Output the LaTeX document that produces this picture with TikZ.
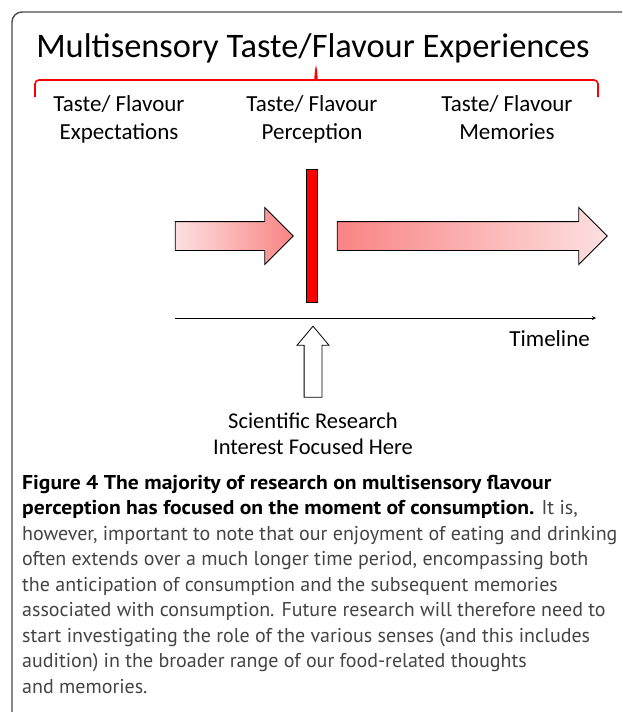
\documentclass[tikz,border=0pt]{standalone}
\usepackage{fontspec}
\setmainfont{Carlito}
\newfontfamily\capfont[BoldFeatures={FakeStretch=1.08}]{PT Sans}
\usepackage{tikz}
\usetikzlibrary{shapes, arrows, positioning}

\definecolor{framegray}{HTML}{4A4A4A}
\definecolor{palered}{HTML}{FDE0E0}
\definecolor{midred}{HTML}{F98484}
\definecolor{captxt}{HTML}{444444}

\begin{document}
\begin{tikzpicture}[x=1pt,y=-1pt]
        \useasboundingbox (0,0) rectangle (622,712);
        % frame, cut at right and bottom
        \draw[framegray, line width=1.4pt, rounded corners=10] (12,712) -- (12,12) -- (622,12);
        % heading and bracket
        \node[anchor=base, inner sep=0, font=\fontsize{34.4}{40}\selectfont] (title) at (313,57) {Multisensory Taste/Flavour Experiences};
        \draw[red, line width=1.6pt, rounded corners=4] (35,97) -- (35,80) -- (311,80)
          .. controls (315,80) .. (316,67) .. controls (317,80) .. (321,80) -- (598,80) -- (598,97);
        \begin{scope}[every node/.style={inner sep=0,align=center,anchor=north,font=\fontsize{23}{28}\selectfont}]
          \node (exp) at (119,95) {Taste/ Flavour\\Expectations};
          \node (perc) at (312,95) {Taste/ Flavour\\Perception};
          \node (mem) at (507,95) {Taste/ Flavour\\Memories};
        \end{scope}
        % block arrows and the moment of consumption
        \begin{scope}[every node/.style={single arrow,draw=black,thick,inner xsep=0,inner ysep=14,single arrow head extend=14}]
          \node[minimum height=118, left color=palered, right color=midred] (before) at (227,236) {};
          \node[minimum height=270, left color=midred, right color=palered] (after) at (465,236) {};
        \end{scope}
        \node[draw=black, thick, fill=red, inner sep=0, minimum width=11, minimum height=133] (bar) at (312,236) {};
        % timeline
        \coordinate (t0) at (175,318);
        \coordinate (t1) at (596,318);
        \path (t0) edge[draw=black, thick, -stealth] (t1);
        \node[anchor=base east, inner sep=0, font=\fontsize{23}{28}\selectfont] (tl) at (590,346) {Timeline};
        % research focus
        \node[single arrow, draw=black, thick, fill=white, inner xsep=0, inner ysep=8.5, rotate=90, minimum height=71,
          single arrow head extend=7, single arrow tip angle=80] (focus) at (313,367) {};
        \node[below=15pt of focus.west, inner sep=0, align=center, font=\fontsize{22.5}{26}\selectfont] (sci) {Scientific Research\\Interest Focused Here};
        % caption
        \node[anchor=north west, inner sep=0, align=left, text=captxt, font=\capfont\fontsize{20}{25.5}\selectfont] (cap) at (22,475)
          {\textbf{\color{black}Figure 4 The majority of research on multisensory flavour}\\
           \textbf{\color{black}perception has focused on the moment of consumption.} It is,\\
           however, important to note that our enjoyment of eating and drinking\\
           often extends over a much longer time period, encompassing both\\
           the anticipation of consumption and the subsequent memories\\
           associated with consumption. Future research will therefore need to\\
           start investigating the role of the various senses (and this includes\\
           audition) in the broader range of our food-related thoughts\\
           and memories.};
      \end{tikzpicture}
\end{document}
